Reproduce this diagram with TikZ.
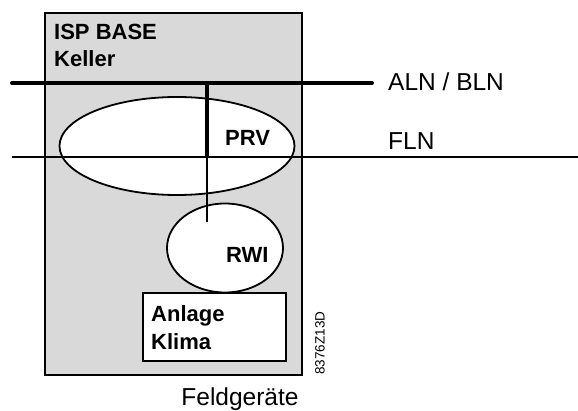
\documentclass[tikz,border=0pt]{standalone}
\usepackage{fontspec}
\setmainfont{Liberation Sans}
\usetikzlibrary{shapes.geometric}
\definecolor{boxgray}{RGB}{217,217,217}
\begin{document}
\begin{tikzpicture}[x=1pt,y=-1pt,
  boldlbl/.style={font=\fontsize{22}{27}\selectfont\bfseries, inner sep=0pt, anchor=base west},
  plainlbl/.style={font=\fontsize{24.5}{28}\selectfont, inner sep=0pt},
  whiteell/.style={ellipse, draw=black, line width=1.8pt, fill=white, inner sep=0pt},
  thinline/.style={line width=1.5pt},
  thickline/.style={line width=4pt}]
\useasboundingbox (0,0) rectangle (578,411);
% base box
\node[draw=black, line width=1.5pt, fill=boxgray, minimum width=257pt, minimum height=362pt, inner sep=0pt] (base) at (173.5,194) {};
% PRV ellipse
\node[whiteell, minimum width=235pt, minimum height=98pt] (prv) at (177,146) {};
% RWI ellipse
\node[whiteell, minimum width=116pt, minimum height=89pt] (rwi) at (225,248) {};
% Anlage box
\node[draw=black, line width=1.5pt, fill=white, minimum width=143pt, minimum height=68pt, inner sep=0pt] (anlage) at (214.5,327) {};
% lines
\coordinate (alnL) at (12,83);
\coordinate (alnR) at (372,83);
\coordinate (flnL) at (12,157);
\coordinate (flnR) at (578,157);
\coordinate (vTop) at (207,81);
\coordinate (vMid) at (207,157);
\coordinate (vBot) at (207,222);
\draw[thickline, line cap=round] (alnL) -- (alnR);
\draw[thinline] (flnL) -- (flnR);
\draw[thickline] (vTop) -- (vMid);
\draw[thinline] (vMid) -- (vBot);
% labels
\node[boldlbl] (isp) at (54,40) {ISP BASE};
\node[boldlbl] (keller) at (54,67) {Keller};
\node[boldlbl] (prvt) at (225,146) {PRV};
\node[boldlbl] (rwit) at (226,263) {RWI};
\node[boldlbl] (anlt) at (151,322) {Anlage};
\node[boldlbl] (klima) at (151,349) {Klima};
\node[plainlbl, anchor=base west] (aln) at (388,91) {ALN / BLN};
\node[plainlbl, anchor=base west] (fln) at (388,150) {FLN};
\node[plainlbl, anchor=base] (feld) at (240,405) {Feldgeräte};
\node[font=\fontsize{13.5}{16}\selectfont, inner sep=0pt, rotate=90] (code) at (320,343) {8376Z13D};
\end{tikzpicture}
\end{document}
